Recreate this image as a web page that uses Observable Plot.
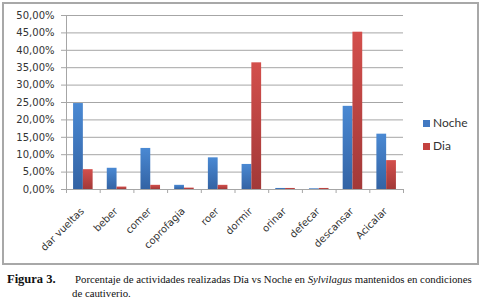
<!DOCTYPE html>
<html>
<head>
<meta charset="utf-8">
<script src="https://cdn.jsdelivr.net/npm/d3@7"></script>
<script src="https://cdn.jsdelivr.net/npm/@observablehq/plot@0.6"></script>
<style>
  html, body { margin: 0; padding: 0; background: #fff; }
  #page { position: relative; width: 481px; height: 300px; overflow: hidden; background: #fff; }
  #frame { position: absolute; left: 2px; top: 2px; width: 477px; height: 263px; box-sizing: border-box; border: 2px solid #a8a8a8; background: #fff; }
  #chart { position: absolute; left: 0; top: 0; }
  #chart svg { display: block; }
  .leg { position: absolute; font-family: Lato, sans-serif; font-size: 12px; color: #333; white-space: nowrap; line-height: 14px; }
  .leg i { display: inline-block; width: 7px; height: 7px; margin-right: 3px; vertical-align: 0px; }
  .cap { position: absolute; font-family: "Liberation Serif", serif; color: #111; white-space: nowrap; }
</style>
</head>
<body>
<div id="page">
  <div id="frame">
    <div id="chart"></div>
  </div>
  <div class="leg" id="legNoche" style="left:423px; top:116px;"><i style="background:#4279c2"></i>Noche</div>
  <div class="leg" id="legDia" style="left:423px; top:139px;"><i style="background:#c4423f"></i>Dia</div>
  <div class="cap" style="left:7px; top:272px; font-size:12.5px; font-weight:bold;">Figura 3.</div>
  <div class="cap" style="left:75px; top:273px; font-size:10.8px;">Porcentaje de actividades realizadas Día vs Noche en <i>Sylvilagus</i> mantenidos en condiciones</div>
  <div class="cap" style="left:72px; top:287px; font-size:10.8px;">de cautiverio.</div>
</div>
<script>
// Data (percent)
const categories = ["dar vueltas", "beber", "comer", "coprofagia", "roer", "dormir", "orinar", "defecar", "descansar", "Acicalar"];
const noche = [24.7, 6.1, 11.8, 1.2, 9.1, 7.2, 0.3, 0.2, 23.9, 15.9];
const dia   = [5.7, 0.7, 1.2, 0.4, 1.2, 36.4, 0.3, 0.3, 45.2, 8.3];
const yTicks = [0, 5, 10, 15, 20, 25, 30, 35, 40, 45, 50];
const seriesNames = ["Noche", "Dia"];

const rowsNoche = noche.map((v, i) => ({i, v, serie: seriesNames[0]}));
const rowsDia = dia.map((v, i) => ({i, v, serie: seriesNames[1]}));
const boundaries = d3.range(0, categories.length + 1);
const fmt = d => d.toFixed(2).replace(".", ",") + "%";

const chart = Plot.plot({
  width: 473,
  height: 259,
  marginLeft: 62,
  marginRight: 74,
  marginTop: 11,
  marginBottom: 74,
  style: {background: "transparent", fontFamily: "'DejaVu Sans', sans-serif", fontSize: "10px", color: "#333"},
  x: {type: "linear", domain: [0, categories.length], axis: null},
  y: {domain: [0, 50], axis: null},
  marks: [
    Plot.gridY(yTicks, {stroke: "#a6a6a6", strokeOpacity: 1}),
    Plot.axisY(yTicks, {tickSize: 5, tickPadding: 7, tickFormat: fmt, stroke: "#a6a6a6", fill: "#333", fontSize: 10, label: null}),
    Plot.ruleX([0], {y1: 0, y2: 50, stroke: "#a6a6a6"}),
    Plot.axisX(boundaries, {tickSize: 4, tickFormat: () => "", stroke: "#a6a6a6", label: null}),
    Plot.rectY(rowsNoche, {x1: d => d.i + 0.21, x2: d => d.i + 0.5, y: "v", fill: "url(#gradNoche)"}),
    Plot.rectY(rowsDia, {x1: d => d.i + 0.5, x2: d => d.i + 0.79, y: "v", fill: "url(#gradDia)"}),
    Plot.ruleY([0], {stroke: "#a6a6a6"}),
    Plot.text(categories, {x: (d, i) => i + 0.5, y: () => 0, text: d => d, rotate: -45, textAnchor: "end", dx: -1, dy: 20, fill: "#333", fontSize: 10})
  ]
});

// gradients used by the bars
const defs = d3.select(chart).insert("defs", ":first-child");
function grad(id, top, bottom) {
  const g = defs.append("linearGradient").attr("id", id).attr("x1", 0).attr("y1", 0).attr("x2", 0).attr("y2", 1);
  g.append("stop").attr("offset", "0%").attr("stop-color", top);
  g.append("stop").attr("offset", "100%").attr("stop-color", bottom);
}
grad("gradNoche", "#4a89d3", "#3363a4");
grad("gradDia", "#d34f4c", "#a23938");

document.getElementById("chart").appendChild(chart);
</script>
</body>
</html>
